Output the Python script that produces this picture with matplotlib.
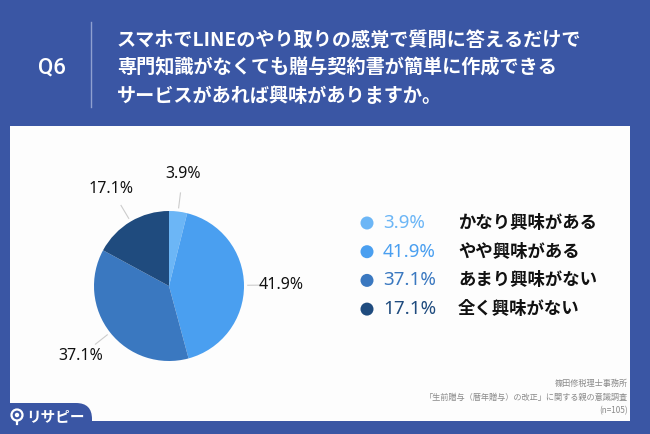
import matplotlib
matplotlib.use('Agg')
import matplotlib.pyplot as plt
from matplotlib.patches import FancyBboxPatch, Rectangle, Circle
import numpy as np

plt.rcParams['font.family'] = ['Noto Sans CJK JP', 'DejaVu Sans']

# data
categories = ['かなり興味がある', 'やや興味がある', 'あまり興味がない', '全く興味がない']
values = [3.9, 41.9, 37.1, 17.1]
colors = ['#6cb6f6', '#4a9ff0', '#3a78c0', '#1f4b7e']
question_no = 'Q6'
question_lines = ['スマホでLINEのやり取りの感覚で質問に答えるだけで',
                  '専門知識がなくても贈与契約書が簡単に作成できる',
                  'サービスがあれば興味がありますか。']
source_lines = ['篠田修税理士事務所',
                '「生前贈与（暦年贈与）の改正」に関する親の意識調査',
                '(n=105)']

W, H = 650, 434
BLUE = '#3a56a4'

fig = plt.figure(figsize=(W / 100, H / 100), dpi=100)
fig.patch.set_facecolor(BLUE)

# full-figure canvas in pixel coords
bg = fig.add_axes([0, 0, 1, 1])
bg.set_xlim(0, W)
bg.set_ylim(H, 0)
bg.axis('off')

# white panel
bg.add_patch(Rectangle((10, 126), 620, 295, facecolor='#fdfdfd', edgecolor='none'))
# logo tab
bg.add_patch(FancyBboxPatch((-20, 403), 112, 60, boxstyle='round,pad=0,rounding_size=16',
                            facecolor=BLUE, edgecolor='none'))
bg.add_patch(Circle((17, 415), 5.5, facecolor='none', edgecolor='white', lw=1.6))
bg.add_patch(Circle((17, 415), 2.2, facecolor='white', edgecolor='none'))
bg.plot([17, 17], [420.5, 424], color='white', lw=1.6)
bg.text(26, 416, 'リサピー', color='white', fontsize=10.5, fontweight='bold',
        ha='left', va='center')

# header
bg.text(52, 68, question_no, color='white', fontsize=16, fontweight='medium',
        ha='center', va='center', family=['Roboto', 'DejaVu Sans'])
bg.plot([91, 91], [22, 107], color='#8fa0d0', lw=1)
for i, line in enumerate(question_lines):
    bg.text(117, 40 + i * 28, line, color='white', fontsize=13.8, fontweight='bold',
            ha='left', va='center')

# source
for i, line in enumerate(source_lines):
    bg.text(628, 383 + i * 14, line, color='#8a8a8a', fontsize=5.9,
            ha='right', va='center')

# legend
for i, (cat, v, c) in enumerate(zip(categories, values, colors)):
    y = 223 + i * 28.7
    bg.add_patch(Circle((367, y), 6.5, facecolor=c, edgecolor='none'))
    bg.text(383, y, f'{v}%', color=c, fontsize=13.5, ha='left', va='center',
            family=['Noto Sans', 'DejaVu Sans'])
    bg.text(458, y, cat, color='#111111', fontsize=12.5, fontweight='bold',
            ha='left', va='center')

# pie
cx, cy, r = 169, 286, 75
ax = fig.add_axes([(cx - r) / W, (H - cy - r) / H, 2 * r / W, 2 * r / H])
wedges, _ = ax.pie(values, colors=colors, startangle=90, counterclock=False,
                   radius=1, wedgeprops=dict(linewidth=0))
ax.set_xlim(-1, 1)
ax.set_ylim(-1, 1)
ax.set_aspect('equal')
for w, v in zip(wedges, values):
    ang = np.deg2rad((w.theta1 + w.theta2) / 2)
    ca, sa = np.cos(ang), np.sin(ang)
    ax.plot([1.05 * ca, 1.25 * ca], [1.05 * sa, 1.25 * sa], color='#cccccc',
            lw=0.8, clip_on=False)
    ax.text(1.5 * ca, 1.5 * sa, f'{v}%', fontsize=11.5, color='#111111',
            ha='center', va='center', family=['Noto Sans', 'DejaVu Sans'],
            fontweight='medium')

fig.savefig('out.png', dpi=100, facecolor=BLUE)
